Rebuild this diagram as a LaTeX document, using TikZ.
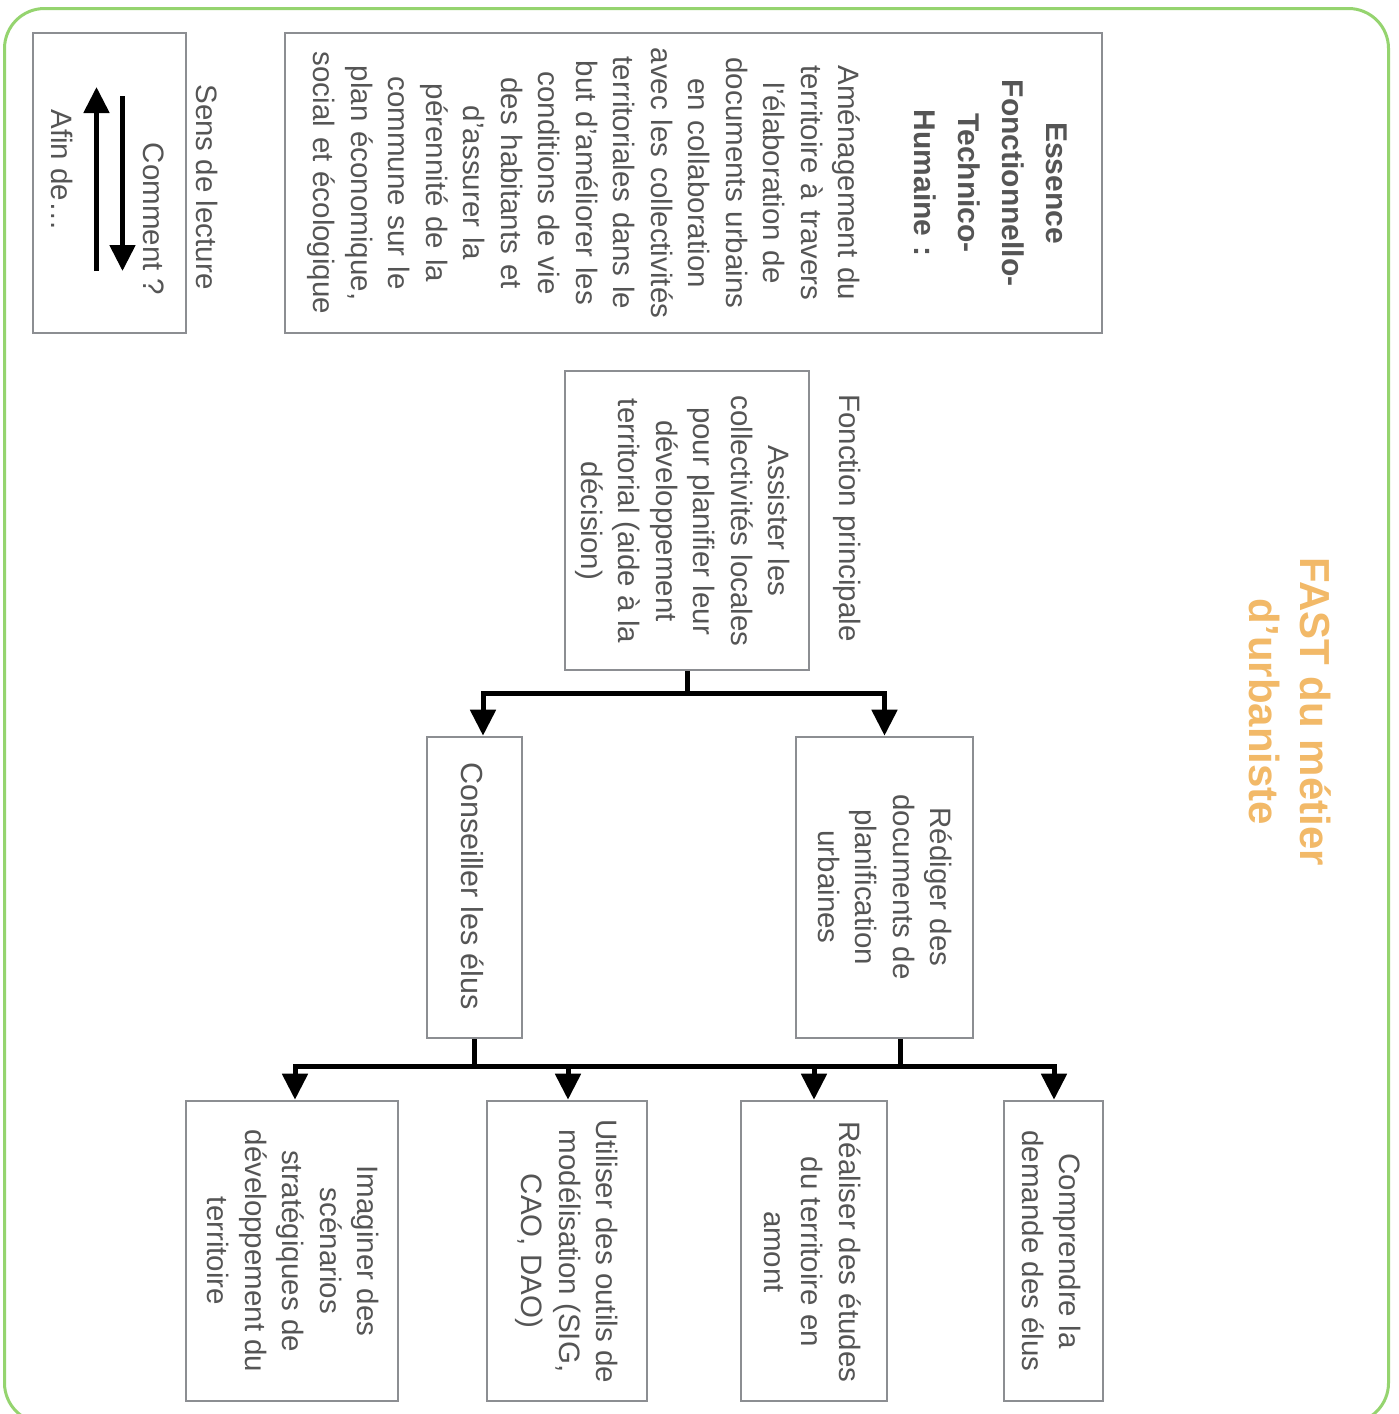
\documentclass[tikz,border=0pt]{standalone}
\usepackage{fontspec}
\setmainfont{Liberation Sans}
\usetikzlibrary{arrows.meta}
\definecolor{txtc}{HTML}{555555}
\definecolor{boxc}{HTML}{8C8E92}
\definecolor{framec}{HTML}{95D46F}
\definecolor{titlec}{HTML}{F2B968}
\tikzset{
  bx/.style={draw=boxc, line width=2.6pt, inner sep=0pt, fill=white},
  tx/.style={rotate=-90, align=center, inner sep=0pt, text=txtc,
    font=\fontsize{29.5}{37.5}\selectfont},
  ln/.style={line width=5pt, draw=black},
  arw/.style={line width=5pt, draw=black, -{Triangle[width=25pt,length=26pt]}},
}
\begin{document}
\begin{tikzpicture}[x=1pt, y=-1pt]
\useasboundingbox (0,0) rectangle (1399,1414);
\fill[white] (0,0) rectangle (1399,1414);
% outer frame
\draw[framec, line width=3pt, rounded corners=40pt] (4.5,8.5) rectangle (1388.5,1423);

% title
\node[tx, text=titlec, font=\fontsize{42}{51}\selectfont\bfseries] (title) at (1290,712) {FAST du métier\\d’urbaniste};

% legend
\node[bx, minimum width=153pt, minimum height=300pt] (leg) at (109.5,183) {};
\node[tx] (legt) at (207,187) {Sens de lecture};
\node[tx] (comm) at (154,219) {Comment~?};
\node[tx] (afin) at (62,170) {Afin de…};
\coordinate (dA) at (122.5,96);
\coordinate (dB) at (122.5,271);
\coordinate (uA) at (96.5,271);
\coordinate (uB) at (96.5,87);
\draw[arw] (dA) -- (dB);
\draw[arw] (uA) -- (uB);

% essence
\node[bx, minimum width=817pt, minimum height=300pt] (ess) at (693.5,183) {};
\node[tx, text width=300pt] (esst) at (687,183) {{\fontsize{30}{44}\selectfont\bfseries Essence\\Fonctionnello-\\Technico-\\Humaine :\par}\vspace{38pt}Aménagement du\\territoire à travers\\l’élaboration de\\documents urbains\\en collaboration\\avec les collectivités\\territoriales dans le\\but d’améliorer les\\conditions de vie\\des habitants et\\d’assurer la\\pérennité de la\\commune sur le\\plan économique,\\social et écologique};

% fonction principale
\node[tx] (fplab) at (847,518) {Fonction principale};
\node[bx, minimum width=244pt, minimum height=299pt] (fp) at (687,520.5) {};
\node[tx] (fpt) at (682.5,521) {Assister les\\collectivités locales\\pour planifier leur\\développement\\territorial (aide à la\\décision)};

% level 2
\node[bx, minimum width=95pt, minimum height=301pt] (cons) at (474.5,887.5) {};
\node[tx, font=\fontsize{30.5}{38}\selectfont] (const) at (473,886) {Conseiller les élus};
\node[bx, minimum width=177pt, minimum height=301pt] (red) at (884.5,887.5) {};
\node[tx] (redt) at (885,887) {Rédiger des\\documents de\\planification\\urbaines};

% level 3
\node[bx, minimum width=212pt, minimum height=300pt] (ima) at (292,1251) {};
\node[tx] (imat) at (293.5,1251) {Imaginer des\\scénarios\\stratégiques de\\développement du\\territoire};
\node[bx, minimum width=160pt, minimum height=300pt] (uti) at (567,1251) {};
\node[tx] (utit) at (567,1251) {Utiliser des outils de\\modélisation (SIG,\\CAO, DAO)};
\node[bx, minimum width=146pt, minimum height=300pt] (rea) at (814,1251) {};
\node[tx] (reat) at (812.5,1252) {Réaliser des études\\du territoire en\\amont};
\node[bx, minimum width=99pt, minimum height=300pt] (comp) at (1053.5,1251) {};
\node[tx] (compt) at (1051.5,1251) {Comprendre la\\demande des élus};

% connectors level 1 -> 2
\coordinate (j1) at (687,693.5);
\draw[ln] (fp.south) -- (j1);
\draw[arw] (j1) -| ([xshift=8.5pt]cons.north);
\draw[arw] (j1) -| (red.north);

% connectors level 2 -> 3
\coordinate (j2) at (680,1066);
\draw[ln] (cons.south) -- (cons.south |- j2);
\draw[ln] ([xshift=15.5pt]red.south) -- ([xshift=15.5pt]red.south |- j2);
\draw[arw] (j2) -| ([xshift=3pt]ima.north);
\draw[arw] (j2) -| ([xshift=1pt]uti.north);
\draw[arw] (j2) -| (rea.north);
\draw[arw] (j2) -| ([xshift=0.5pt]comp.north);
\end{tikzpicture}
\end{document}
